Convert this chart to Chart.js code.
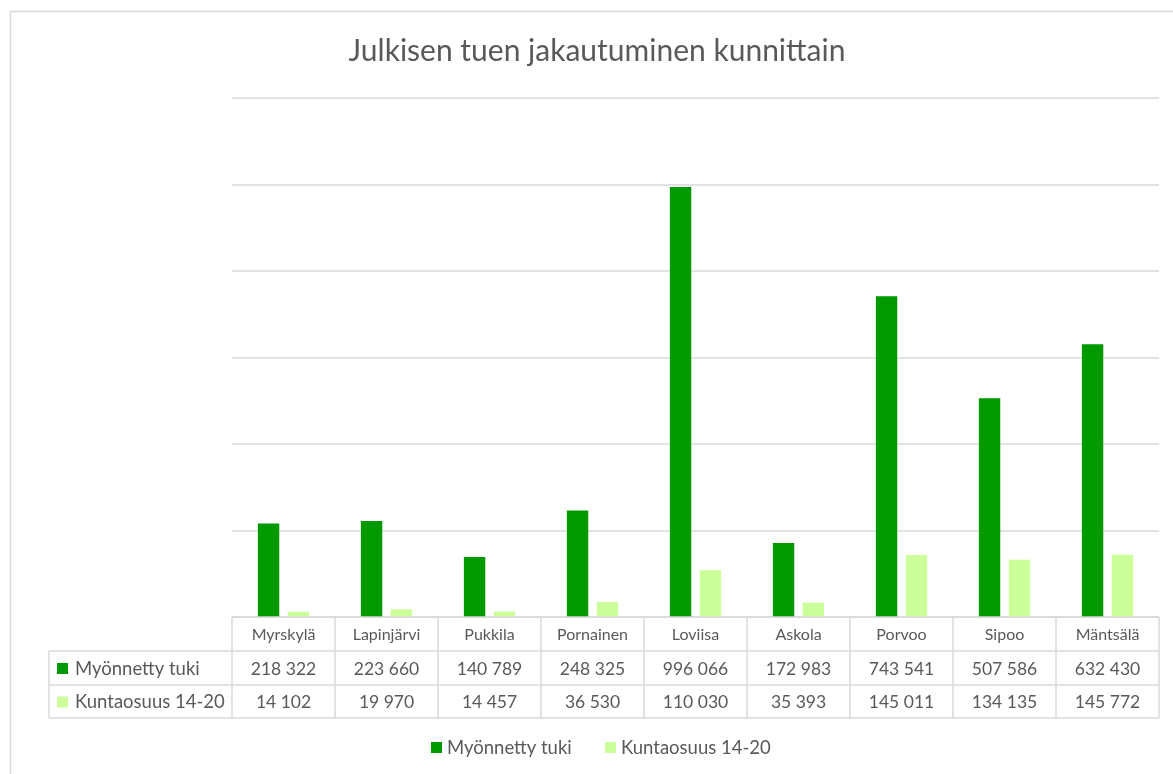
<!DOCTYPE html>
<html>
<head>
<meta charset="utf-8">
<script src="https://cdn.jsdelivr.net/npm/chart.js@4.4.1/dist/chart.umd.min.js"></script>
<style>
html,body{margin:0;padding:0;background:#fff;}
canvas{display:block;}
</style>
</head>
<body>
<canvas id="c" width="1173" height="774"></canvas>
<script>
const title = "Julkisen tuen jakautuminen kunnittain";
const categories = ["Myrskylä","Lapinjärvi","Pukkila","Pornainen","Loviisa","Askola","Porvoo","Sipoo","Mäntsälä"];
const seriesNames = ["Myönnetty tuki","Kuntaosuus 14-20"];
const myonnettyTuki = [218322,223660,140789,248325,996066,172983,743541,507586,632430];
const kuntaosuus = [14102,19970,14457,36530,110030,35393,145011,134135,145772];
const seriesColors = ["#009900","#CCFF99"];
const yMax = 1200000;
const yStep = 200000;

const FONT = "Lato, 'Open Sans', sans-serif";
const TEXT = "#595959";
const LINE = "#d9d9d9";

function fmt(n){ return String(n).replace(/\B(?=(\d{3})+(?!\d))/g, " "); }

const tablePlugin = {
  id: "tablePlugin",
  beforeDraw(chart){
    const ctx = chart.ctx;
    ctx.save();
    ctx.fillStyle = "#fff";
    ctx.fillRect(0,0,chart.width,chart.height);
    ctx.strokeStyle = LINE;
    ctx.lineWidth = 1.5;
    ctx.strokeRect(10.5, 11.5, chart.width + 20, chart.height + 20);
    ctx.restore();
  },
  beforeDatasetsDraw(chart){
    const ctx = chart.ctx;
    const area = chart.chartArea;
    const y = chart.scales.y;
    ctx.save();
    ctx.strokeStyle = LINE;
    ctx.lineWidth = 1.5;
    ctx.beginPath();
    y.ticks.forEach(t => {
      const py = Math.round(y.getPixelForValue(t.value));
      ctx.moveTo(area.left, py);
      ctx.lineTo(area.right, py);
    });
    ctx.stroke();
    ctx.restore();
  },
  afterDraw(chart){
    const ctx = chart.ctx;
    const area = chart.chartArea;
    const x = chart.scales.x;
    const n = categories.length;
    const colW = (area.right - area.left) / n;
    const top = Math.round(area.bottom);
    const rowH = [34, 34, 33];
    const leftX = 49;
    ctx.save();
    // title
    ctx.fillStyle = TEXT;
    ctx.font = "30px " + FONT;
    ctx.textAlign = "center";
    ctx.textBaseline = "middle";
    ctx.fillText(title, 597, 51);

    // table lines
    ctx.strokeStyle = LINE;
    ctx.lineWidth = 1.5;
    const y0 = top, y1 = y0 + rowH[0], y2 = y1 + rowH[1], y3 = y2 + rowH[2];
    ctx.beginPath();
    ctx.moveTo(area.left, y0); ctx.lineTo(area.right, y0);
    ctx.moveTo(leftX, y1); ctx.lineTo(area.right, y1);
    ctx.moveTo(leftX, y2); ctx.lineTo(area.right, y2);
    ctx.moveTo(leftX, y3); ctx.lineTo(area.right, y3);
    ctx.moveTo(leftX, y1); ctx.lineTo(leftX, y3);
    for (let i = 0; i <= n; i++) {
      const vx = Math.round(area.left + i * colW);
      ctx.moveTo(vx, y0); ctx.lineTo(vx, y3);
    }
    ctx.stroke();

    ctx.fillStyle = TEXT;
    ctx.textAlign = "center";
    ctx.textBaseline = "middle";
    const rows = [myonnettyTuki, kuntaosuus];
    for (let i = 0; i < n; i++) {
      const cx = x.getPixelForValue(i);
      ctx.font = "16px " + FONT;
      ctx.fillText(categories[i], cx, (y0 + y1) / 2 + 1);
      ctx.font = "17.5px " + FONT;
      ctx.fillText(fmt(rows[0][i]), cx, (y1 + y2) / 2 + 1);
      ctx.fillText(fmt(rows[1][i]), cx, (y2 + y3) / 2 + 1);
    }
    // row headers
    ctx.textAlign = "left";
    ctx.font = "18.5px " + FONT;
    const ry = [(y1 + y2) / 2, (y2 + y3) / 2];
    for (let s = 0; s < 2; s++) {
      ctx.fillStyle = seriesColors[s];
      ctx.fillRect(57, ry[s] - 5, 11, 11);
      ctx.fillStyle = TEXT;
      ctx.fillText(seriesNames[s], 75, ry[s] + 1);
    }
    // legend
    const ly = 748;
    const lx = [431, 605];
    for (let s = 0; s < 2; s++) {
      ctx.fillStyle = seriesColors[s];
      ctx.fillRect(lx[s], ly - 6, 11, 11);
      ctx.fillStyle = TEXT;
      ctx.fillText(seriesNames[s], lx[s] + 16, ly);
    }
    ctx.restore();
  }
};

new Chart(document.getElementById("c"), {
  type: "bar",
  data: {
    labels: categories,
    datasets: [
      { label: seriesNames[0], data: myonnettyTuki, backgroundColor: seriesColors[0], borderColor: "rgba(255,255,255,0.5)", borderWidth: 0.8 },
      { label: seriesNames[1], data: kuntaosuus, backgroundColor: seriesColors[1], borderColor: "rgba(255,255,255,0.5)", borderWidth: 0.8 }
    ]
  },
  options: {
    responsive: false,
    animation: false,
    devicePixelRatio: 1,
    layout: { padding: { left: 232, right: 14, top: 98, bottom: 157 } },
    plugins: { legend: { display: false }, title: { display: false }, tooltip: { enabled: false } },
    datasets: { bar: { categoryPercentage: 0.58, barPercentage: 0.77 } },
    scales: {
      x: { display: false, offset: true },
      y: {
        display: true,
        min: 0, max: yMax,
        ticks: { display: false, stepSize: yStep },
        border: { display: false },
        grid: { display: false, drawTicks: false }
      }
    }
  },
  plugins: [tablePlugin]
});
</script>
</body>
</html>
